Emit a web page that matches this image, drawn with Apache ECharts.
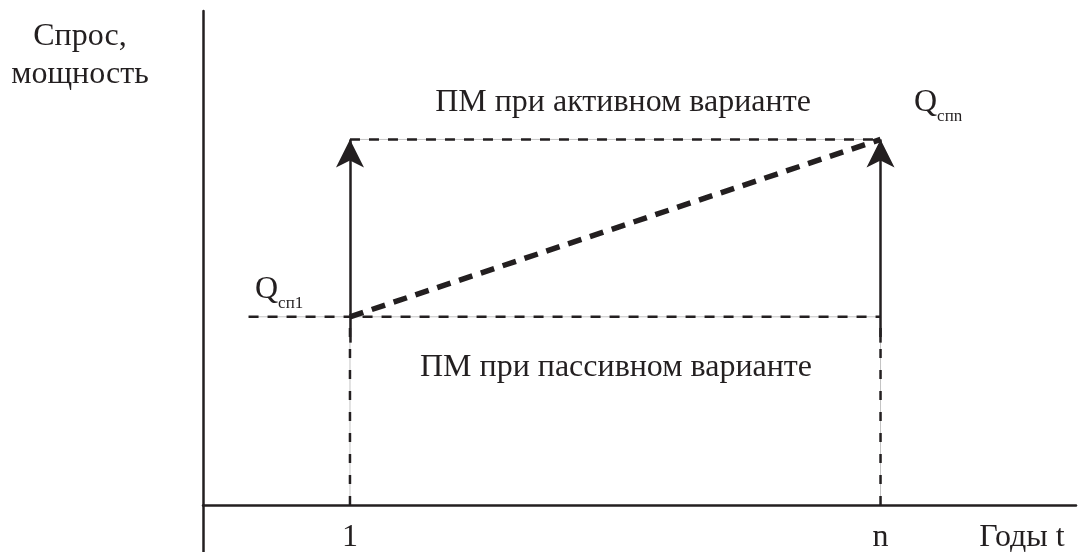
<!DOCTYPE html>
<html>
<head>
<meta charset="utf-8">
<script src="https://cdn.jsdelivr.net/npm/echarts@6/dist/echarts.min.js"></script>
<style>
  html, body { margin: 0; padding: 0; background: #fff; }
  #chart { width: 1079px; height: 552px; }
</style>
</head>
<body>
<div id="chart"></div>
<script>
// годы: первый год и год n (в единицах оси)
var years = [1, 4.61]
var yearLabels = ['1', 'n']
// спрос в начале и в конце периода
var demand = [4, 7.77]
// начало пунктира пассивного варианта
var passiveStart = 0.31
// нижний край сплошных стрелок
var arrowBase = 3.45

var ink = '#231f20'
var serif = '"Liberation Serif", "Times New Roman", serif'

var chart = echarts.init(document.getElementById('chart'))

function dashed(name, data, width, dash) {
  return {
    name: name,
    type: 'line',
    data: data,
    symbol: 'none',
    silent: true,
    lineStyle: { color: ink, width: width, type: dash }
  }
}
function hair(data) {
  return {
    type: 'line',
    data: data,
    symbol: 'none',
    silent: true,
    z: 1,
    lineStyle: { color: '#c4c4c4', width: 1 }
  }
}

var activeLine = [[years[0], demand[1]], [years[1], demand[1]]]
var passiveLine = [[passiveStart, demand[0]], [years[1], demand[0]]]
var leftDrop = [[years[0], 0], [years[0], demand[0]]]
var rightDrop = [[years[1], 0], [years[1], demand[0]]]

var qRich = {
  q: { fontFamily: serif, fontSize: 32, fill: ink },
  s: { fontFamily: serif, fontSize: 17, fill: ink, verticalAlign: 'bottom', padding: [0, 0, -6, 0] }
}

chart.setOption({
  animation: false,
  grid: { left: 203, right: 3, top: 11, bottom: 0, containLabel: false, outerBoundsMode: 'none' },
  xAxis: {
    type: 'value',
    min: 0,
    max: 5.94,
    axisLine: { onZero: true, lineStyle: { color: ink, width: 2.5 } },
    axisTick: { show: false },
    splitLine: { show: false },
    axisLabel: { show: false }
  },
  yAxis: {
    type: 'value',
    min: -1,
    max: 10.5,
    axisLine: { show: true, lineStyle: { color: ink, width: 2.5 } },
    axisTick: { show: false },
    axisLabel: { show: false },
    splitLine: { show: false }
  },
  series: [
    hair(activeLine), hair(passiveLine), hair(leftDrop), hair(rightDrop),
    dashed('active', activeLine, 2.5, [10, 9]),
    dashed('passive', passiveLine, 2.5, [10, 9]),
    dashed('left', leftDrop, 2.5, [9, 12]),
    dashed('right', rightDrop, 2.5, [9, 12]),
    dashed('demand', [[years[0], demand[0]], [years[1], demand[1]]], 5.5, [14, 9]),
    {
      type: 'line',
      data: [],
      markLine: {
        silent: true,
        symbol: ['none', 'arrow'],
        symbolSize: [21, 28],
        label: { show: false },
        lineStyle: { color: ink, width: 2.5, type: 'solid' },
        data: [
          [{ coord: [years[0], arrowBase] }, { coord: [years[0], demand[1]] }],
          [{ coord: [years[1], arrowBase] }, { coord: [years[1], demand[1]] }]
        ]
      }
    },
    {
      // подписи годов на оси
      type: 'scatter',
      data: years.map(function (y) { return [y, 0] }),
      symbolSize: 0,
      silent: true,
      itemStyle: { opacity: 1 },
      label: {
        show: true,
        position: 'bottom',
        distance: 17,
        formatter: function (p) { return yearLabels[p.dataIndex] },
        color: ink,
        opacity: 1,
        textBorderWidth: 0,
        fontFamily: serif,
        fontSize: 32
      }
    }
  ],
  graphic: [
    { type: 'text', x: 80, y: 37, style: { text: 'Спрос,', font: '32px ' + serif, fill: ink, align: 'center', verticalAlign: 'middle' } },
    { type: 'text', x: 80, y: 75, style: { text: 'мощность', font: '32px ' + serif, fill: ink, align: 'center', verticalAlign: 'middle' } },
    { type: 'text', x: 623, y: 103, style: { text: 'ПМ при активном варианте', font: '32px ' + serif, fill: ink, align: 'center', verticalAlign: 'middle' } },
    { type: 'text', x: 616, y: 368, style: { text: 'ПМ при пассивном варианте', font: '32px ' + serif, fill: ink, align: 'center', verticalAlign: 'middle' } },
    { type: 'text', x: 1022, y: 538, style: { text: 'Годы t', font: '32px ' + serif, fill: ink, align: 'center', verticalAlign: 'middle' } },
    { type: 'text', x: 914, y: 103, style: { text: '{q|Q}{s|спn}', fill: ink, align: 'left', verticalAlign: 'middle', rich: qRich } },
    { type: 'text', x: 255, y: 290, style: { text: '{q|Q}{s|сп1}', fill: ink, align: 'left', verticalAlign: 'middle', rich: qRich } }
  ]
})
</script>
</body>
</html>
